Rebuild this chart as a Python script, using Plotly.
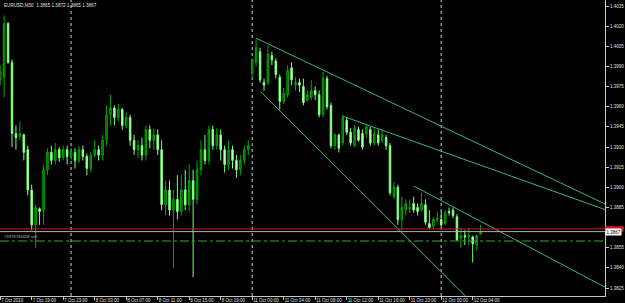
import plotly.graph_objects as go

symbol_text = "EURUSD,M30"
header_ohlc = [1.3865, 1.3872, 1.3865, 1.3867]

opens = [1.3980, 1.3982, 1.4022, 1.3993, 1.3940, 1.3938, 1.3939, 1.3928, 1.3898, 1.3872,
         1.3884, 1.3883, 1.3913, 1.3926, 1.3920, 1.3928, 1.3922, 1.3928, 1.3923, 1.3926,
         1.3920, 1.3928, 1.3923, 1.3914, 1.3924, 1.3928, 1.3924, 1.3935, 1.3954, 1.3959,
         1.3952, 1.3958, 1.3946, 1.3952, 1.3935, 1.3928, 1.3931, 1.3924, 1.3943, 1.3935,
         1.3939, 1.3928, 1.3887, 1.3898, 1.3883, 1.3891, 1.3882, 1.3898, 1.3887, 1.3905,
         1.3891, 1.3913, 1.3928, 1.3920, 1.3943, 1.3931, 1.3939, 1.3928, 1.3917, 1.3928,
         1.3920, 1.3913, 1.3920, 1.3928, 1.3985, 1.3993, 1.4001, 1.3978, 1.3978, 1.3998,
         1.3994, 1.3982, 1.3964, 1.3969, 1.3989, 1.3976, 1.3978, 1.3975, 1.3965, 1.3967,
         1.3972, 1.3969, 1.3954, 1.3981, 1.3961, 1.3931, 1.3939, 1.3933, 1.3950, 1.3941,
         1.3931, 1.3943, 1.3940, 1.3940, 1.3943, 1.3933, 1.3939, 1.3935, 1.3937, 1.3931,
         1.3893, 1.3900, 1.3876, 1.3883, 1.3884, 1.3888, 1.3885, 1.3883, 1.3887, 1.3873,
         1.3871, 1.3876, 1.3876, 1.3873, 1.3882, 1.3883, 1.3878, 1.3862, 1.3864, 1.3863,
         1.3863, 1.3857, 1.3865]
highs = [1.3991, 1.4028, 1.4023, 1.3995, 1.3946, 1.3949, 1.3940, 1.3931, 1.3902, 1.3887,
         1.3885, 1.3917, 1.3929, 1.3931, 1.3933, 1.3930, 1.3931, 1.3931, 1.3929, 1.3929,
         1.3931, 1.3931, 1.3925, 1.3926, 1.3935, 1.3931, 1.3939, 1.3961, 1.3969, 1.3961,
         1.3962, 1.3959, 1.3956, 1.3954, 1.3939, 1.3935, 1.3937, 1.3946, 1.3946, 1.3944,
         1.3943, 1.3935, 1.3905, 1.3905, 1.3898, 1.3909, 1.3909, 1.3913, 1.3917, 1.3913,
         1.3920, 1.3935, 1.3939, 1.3946, 1.3946, 1.3944, 1.3943, 1.3931, 1.3935, 1.3931,
         1.3924, 1.3924, 1.3931, 1.3935, 1.3996, 1.4011, 1.4004, 1.3981, 1.4006, 1.4001,
         1.3996, 1.3984, 1.3974, 1.3991, 1.3993, 1.3982, 1.3981, 1.3981, 1.3972, 1.3980,
         1.3975, 1.3972, 1.3986, 1.3983, 1.3963, 1.3940, 1.3940, 1.3954, 1.3952, 1.3944,
         1.3946, 1.3945, 1.3943, 1.3947, 1.3945, 1.3944, 1.3943, 1.3943, 1.3939, 1.3933,
         1.3904, 1.3902, 1.3893, 1.3891, 1.3891, 1.3893, 1.3888, 1.3896, 1.3891, 1.3883,
         1.3878, 1.3882, 1.3882, 1.3883, 1.3885, 1.3885, 1.3880, 1.3870, 1.3868, 1.3870,
         1.3864, 1.3865, 1.3872]
lows = [1.3976, 1.3967, 1.3992, 1.3930, 1.3928, 1.3935, 1.3920, 1.3894, 1.3868, 1.3855,
        1.3872, 1.3872, 1.3909, 1.3917, 1.3917, 1.3919, 1.3920, 1.3917, 1.3920, 1.3914,
        1.3918, 1.3920, 1.3909, 1.3911, 1.3922, 1.3920, 1.3920, 1.3931, 1.3946, 1.3946,
        1.3949, 1.3943, 1.3944, 1.3931, 1.3924, 1.3922, 1.3920, 1.3920, 1.3929, 1.3928,
        1.3924, 1.3883, 1.3879, 1.3879, 1.3840, 1.3876, 1.3879, 1.3883, 1.3882, 1.3833,
        1.3887, 1.3909, 1.3917, 1.3917, 1.3928, 1.3928, 1.3920, 1.3911, 1.3913, 1.3914,
        1.3907, 1.3909, 1.3917, 1.3924, 1.3981, 1.3990, 1.3978, 1.3972, 1.3976, 1.3991,
        1.3981, 1.3958, 1.3962, 1.3967, 1.3976, 1.3972, 1.3971, 1.3961, 1.3964, 1.3965,
        1.3965, 1.3952, 1.3952, 1.3958, 1.3929, 1.3928, 1.3926, 1.3931, 1.3939, 1.3931,
        1.3930, 1.3934, 1.3928, 1.3937, 1.3931, 1.3931, 1.3931, 1.3933, 1.3928, 1.3894,
        1.3891, 1.3872, 1.3868, 1.3879, 1.3881, 1.3881, 1.3879, 1.3882, 1.3872, 1.3869,
        1.3869, 1.3874, 1.3870, 1.3872, 1.3879, 1.3877, 1.3860, 1.3855, 1.3857, 1.3857,
        1.3844, 1.3853, 1.3865]
closes = [1.3986, 1.4022, 1.3993, 1.3940, 1.3937, 1.3940, 1.3926, 1.3898, 1.3872, 1.3885,
          1.3882, 1.3913, 1.3926, 1.3920, 1.3928, 1.3922, 1.3928, 1.3923, 1.3926, 1.3920,
          1.3928, 1.3923, 1.3914, 1.3924, 1.3928, 1.3924, 1.3935, 1.3954, 1.3959, 1.3952,
          1.3958, 1.3946, 1.3952, 1.3935, 1.3928, 1.3931, 1.3924, 1.3943, 1.3935, 1.3939,
          1.3928, 1.3887, 1.3898, 1.3883, 1.3891, 1.3882, 1.3898, 1.3887, 1.3905, 1.3891,
          1.3913, 1.3928, 1.3920, 1.3943, 1.3931, 1.3939, 1.3928, 1.3917, 1.3928, 1.3920,
          1.3913, 1.3920, 1.3928, 1.3931, 1.3995, 1.4004, 1.3980, 1.3976, 1.3999, 1.3995,
          1.3984, 1.3964, 1.3970, 1.3987, 1.3980, 1.3978, 1.3976, 1.3963, 1.3969, 1.3972,
          1.3969, 1.3954, 1.3981, 1.3960, 1.3931, 1.3939, 1.3929, 1.3952, 1.3941, 1.3933,
          1.3944, 1.3935, 1.3930, 1.3945, 1.3933, 1.3940, 1.3933, 1.3939, 1.3931, 1.3896,
          1.3900, 1.3876, 1.3885, 1.3888, 1.3885, 1.3883, 1.3882, 1.3888, 1.3874, 1.3870,
          1.3876, 1.3877, 1.3872, 1.3881, 1.3881, 1.3879, 1.3861, 1.3864, 1.3863, 1.3864,
          1.3858, 1.3864, 1.3867]

tick_index = [0, 8, 16, 24, 32, 40, 48, 56, 64, 72, 80, 88, 96, 104, 112, 120]
tick_text = ["7 Oct 2010", "7 Oct 19:00", "7 Oct 23:00", "8 Oct 03:00", "8 Oct 07:00",
             "8 Oct 11:00", "8 Oct 15:00", "8 Oct 19:00", "11 Oct 00:00", "11 Oct 04:00",
             "11 Oct 08:00", "11 Oct 12:00", "11 Oct 16:00", "11 Oct 20:00",
             "12 Oct 00:00", "12 Oct 04:00"]

price_ticks = [1.4035, 1.4020, 1.4005, 1.3990, 1.3975, 1.3960, 1.3945, 1.3930,
               1.3915, 1.3900, 1.3885, 1.3855, 1.3840, 1.3825]

separator_index = [18, 64, 112]

# trend lines: (bar index start, price start, bar index end, price end)
trendlines = [
    (65.0, 1.4011, 154.0, 1.3887),
    (87.0, 1.3953, 154.0, 1.3883),
    (66.2, 1.3971, 125.0, 1.3799),
    (105.0, 1.3901, 154.0, 1.3825),
]

bid_price = 1.3867
ask_price = 1.3869
order_price = 1.3860
order_label = "#3978784658 sell"

x_vals = list(range(len(opens)))

FONT = "Liberation Sans"
AXIS_COL = "#c8c8c8"
TXT_COL = "#e0e0e0"

fig = go.Figure(go.Candlestick(
    x=x_vals, open=opens, high=highs, low=lows, close=closes,
    increasing=dict(line=dict(color="#00a800", width=1), fillcolor="#005800"),
    decreasing=dict(line=dict(color="#7dff7d", width=1), fillcolor="#d4ffd4"),
    whiskerwidth=0, hoverinfo="skip", showlegend=False,
))

shapes = []
for idx in separator_index:
    shapes.append(dict(type="line", xref="x", yref="paper", x0=idx, x1=idx, y0=0, y1=1,
                       line=dict(color="#d0d0d0", width=1, dash="dot"), layer="below"))
for (i0, p0, i1, p1) in trendlines:
    shapes.append(dict(type="line", xref="x", yref="y", x0=i0, y0=p0, x1=i1, y1=p1,
                       line=dict(color="#3cb371", width=1)))
shapes.append(dict(type="line", xref="paper", yref="y", x0=0, x1=1, y0=ask_price, y1=ask_price,
                   line=dict(color="#d81818", width=1)))
shapes.append(dict(type="line", xref="paper", yref="y", x0=0, x1=1, y0=bid_price, y1=bid_price,
                   line=dict(color="#b0b0b0", width=1)))
shapes.append(dict(type="line", xref="paper", yref="y", x0=0, x1=1, y0=order_price, y1=order_price,
                   line=dict(color="#36a536", width=1, dash="dashdot")))
# ask price marker on the axis (mostly hidden behind the bid label)
shapes.append(dict(type="rect", xref="paper", yref="y", x0=1.0005, x1=1.031,
                   y0=ask_price - 0.0002, y1=ask_price + 0.0002,
                   fillcolor="#d81818", line=dict(width=0)))

header = symbol_text + "  " + " ".join(f"{v:.4f}" for v in header_ohlc)

annotations = [
    dict(text=header, xref="paper", yref="paper", x=0.004, y=0.998, xanchor="left", yanchor="top",
         showarrow=False, font=dict(family=FONT, size=4.6, color=TXT_COL)),
    dict(text=order_label, xref="x", yref="y", x=0.4, y=order_price + 0.00030, xanchor="left",
         yanchor="middle", showarrow=False, font=dict(family=FONT, size=4.2, color="#b0b0b0")),
    dict(text=f"{bid_price:.4f}", xref="paper", yref="y", x=1.0, y=bid_price, xanchor="left",
         yanchor="middle", showarrow=False, bgcolor="#ffffff", borderpad=0.5,
         font=dict(family=FONT, size=4.5, color="#000000")),
]

fig.update_layout(
    width=625, height=303,
    margin=dict(l=0, r=20, t=0, b=7, pad=0),
    paper_bgcolor="#000000", plot_bgcolor="#000000",
    boxgap=0.45,
    showlegend=False,
    shapes=shapes, annotations=annotations,
    xaxis=dict(range=[-0.05, 153.6], tickvals=tick_index, ticktext=tick_text,
               ticks="outside", ticklen=3, tickcolor=AXIS_COL, tickwidth=1,
               showline=True, linecolor=AXIS_COL, linewidth=1,
               showgrid=False, zeroline=False, rangeslider=dict(visible=False),
               ticklabelposition="outside right", tickangle=0, automargin=False,
               tickfont=dict(family=FONT, size=4.5, color=TXT_COL)),
    yaxis=dict(side="right", range=[1.381904, 1.403947], tickvals=price_ticks,
               tickformat=".4f", ticks="outside", ticklen=3, tickcolor=AXIS_COL,
               showline=True, linecolor=AXIS_COL, linewidth=1, automargin=False,
               showgrid=False, zeroline=False,
               tickfont=dict(family=FONT, size=4.5, color=TXT_COL)),
)

fig.write_html("out.html")
